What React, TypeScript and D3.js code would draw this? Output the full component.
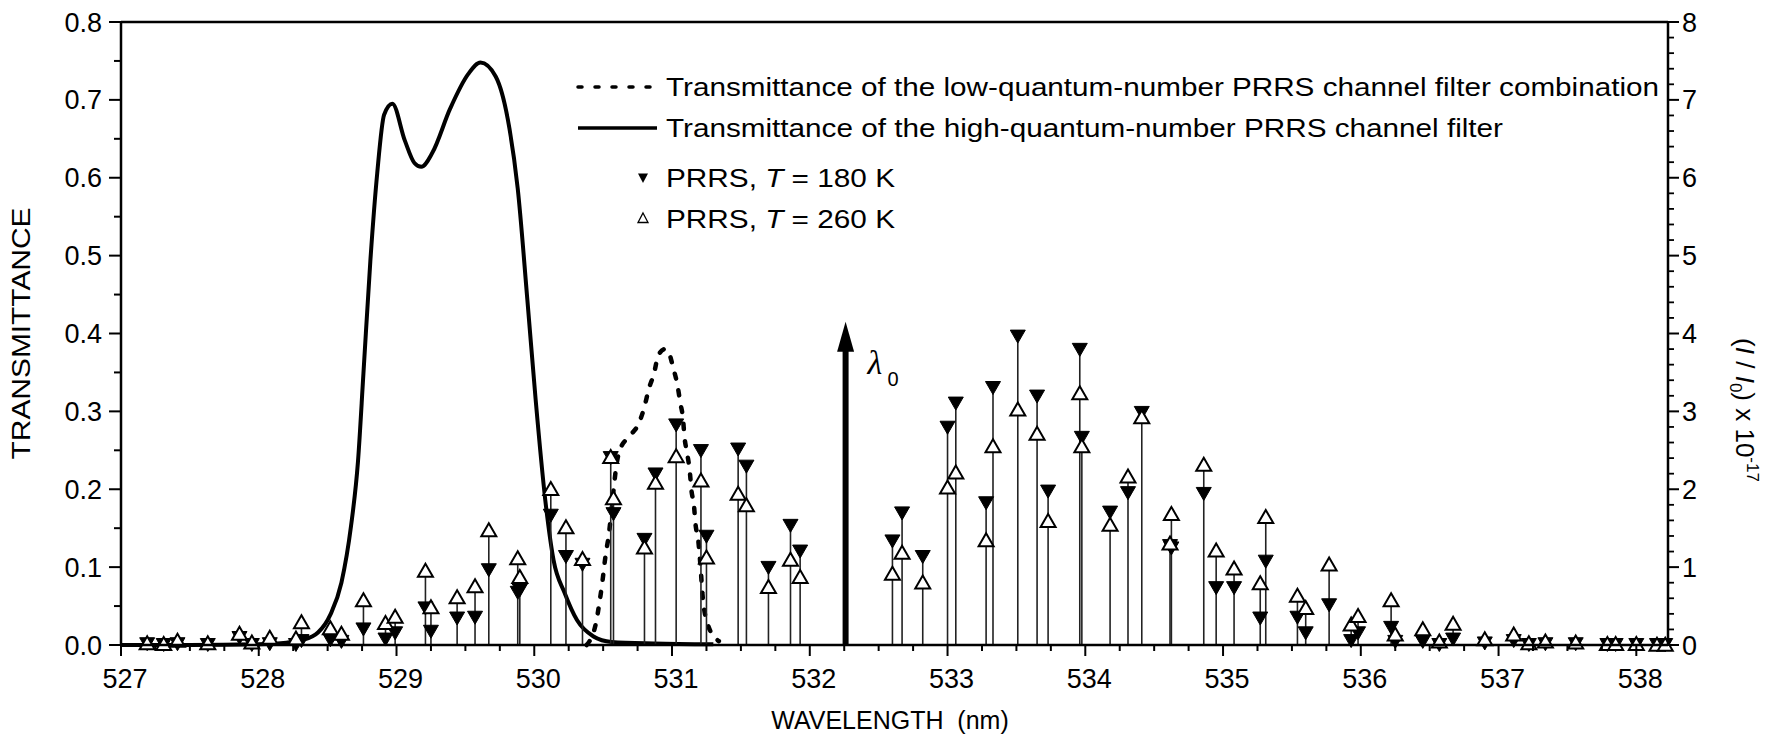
import React from "react";
import * as d3 from "d3";

const W = 1776;
const H = 740;

// ---------------- data ----------------
const xTicks = [527, 528, 529, 530, 531, 532, 533, 534, 535, 536, 537, 538];
const leftTicks = [0.0, 0.1, 0.2, 0.3, 0.4, 0.5, 0.6, 0.7, 0.8];
const rightTicks = [0, 1, 2, 3, 4, 5, 6, 7, 8];

// high-quantum-number PRRS channel filter transmittance (solid)
const highWl = [527.0, 527.5, 528.0, 528.2, 528.31, 528.43, 528.52, 528.6, 528.67, 528.72, 528.76, 528.81, 528.86, 528.91, 528.97, 529.06, 529.13, 529.18, 529.26, 529.39, 529.52, 529.61, 529.72, 529.82, 529.88, 529.95, 530.01, 530.08, 530.14, 530.22, 530.31, 530.43, 530.56, 530.87, 531.3];
const highT = [0.0, 0.0, 0.001, 0.003, 0.006, 0.016, 0.039, 0.08, 0.153, 0.235, 0.349, 0.493, 0.606, 0.681, 0.695, 0.648, 0.619, 0.614, 0.632, 0.689, 0.733, 0.748, 0.73, 0.663, 0.586, 0.443, 0.315, 0.186, 0.109, 0.067, 0.032, 0.011, 0.004, 0.002, 0.001];

// low-quantum-number PRRS channel filter combination transmittance (dotted)
const lowWl = [530.38, 530.45, 530.47, 530.49, 530.52, 530.54, 530.57, 530.6, 530.62, 530.69, 530.76, 530.8, 530.83, 530.87, 530.9, 530.95, 530.97, 531.01, 531.04, 531.06, 531.08, 531.09, 531.11, 531.13, 531.14, 531.16, 531.17, 531.19, 531.21, 531.22, 531.26, 531.34];
const lowT = [0.0, 0.03, 0.051, 0.075, 0.118, 0.14, 0.19, 0.235, 0.25, 0.268, 0.285, 0.306, 0.328, 0.349, 0.372, 0.38, 0.378, 0.355, 0.333, 0.311, 0.29, 0.268, 0.246, 0.221, 0.2, 0.178, 0.156, 0.135, 0.093, 0.067, 0.026, 0.005];

// PRRS lines: wavelength, (I/I0)x1e-17 at 180 K and 260 K
const lineWl = [527.19, 527.31, 527.41, 527.63, 527.86, 527.95, 528.08, 528.27, 528.31, 528.52, 528.6, 528.76, 528.92, 528.99, 529.21, 529.25, 529.44, 529.57, 529.67, 529.88, 529.895, 530.12, 530.23, 530.35, 530.555, 530.575, 530.8, 530.88, 531.03, 531.21, 531.25, 531.48, 531.54, 531.7, 531.86, 531.93, 532.6, 532.67, 532.82, 533.0, 533.06, 533.28, 533.33, 533.51, 533.65, 533.73, 533.96, 533.975, 534.18, 534.31, 534.41, 534.615, 534.625, 534.86, 534.95, 535.08, 535.27, 535.31, 535.54, 535.6, 535.77, 535.93, 535.98, 536.22, 536.25, 536.45, 536.57, 536.67, 536.9, 537.11, 537.22, 537.34, 537.56, 537.79, 537.85, 538.0, 538.15, 538.21];
const i180 = [0.01, 0.0, 0.01, 0.0, 0.09, 0.0, 0.01, 0.0, 0.05, 0.06, 0.04, 0.2, 0.07, 0.15, 0.47, 0.17, 0.34, 0.35, 0.96, 0.67, 0.7, 1.66, 1.13, 1.03, 2.4, 1.68, 1.35, 2.19, 2.82, 2.49, 1.39, 2.51, 2.29, 0.99, 1.53, 1.2, 1.33, 1.69, 1.13, 2.79, 3.1, 1.82, 3.3, 3.96, 3.19, 1.97, 3.79, 2.66, 1.7, 1.95, 2.98, 1.27, 1.24, 1.94, 0.73, 0.73, 0.34, 1.07, 0.35, 0.15, 0.51, 0.05, 0.15, 0.22, 0.04, 0.04, 0.0, 0.07, 0.02, 0.05, 0.0, 0.01, 0.01, 0.0, 0.0, 0.0, 0.0, 0.0];
const i260 = [0.03, 0.02, 0.06, 0.03, 0.15, 0.04, 0.1, 0.09, 0.3, 0.22, 0.15, 0.58, 0.29, 0.37, 0.96, 0.49, 0.62, 0.76, 1.48, 1.12, 0.88, 2.01, 1.52, 1.11, 2.42, 1.89, 1.26, 2.09, 2.43, 2.12, 1.13, 1.95, 1.8, 0.75, 1.1, 0.88, 0.92, 1.19, 0.81, 2.03, 2.22, 1.35, 2.56, 3.03, 2.72, 1.6, 3.24, 2.56, 1.55, 2.17, 2.93, 1.31, 1.69, 2.32, 1.22, 0.99, 0.8, 1.65, 0.64, 0.48, 1.04, 0.27, 0.38, 0.58, 0.14, 0.21, 0.05, 0.28, 0.08, 0.14, 0.03, 0.05, 0.04, 0.02, 0.02, 0.02, 0.01, 0.01];

const LAMBDA0 = 532.26;
const LAMBDA0_ARROW = 4.15;

const legendLow = "Transmittance of the low-quantum-number PRRS channel filter combination";
const legendHigh = "Transmittance of the high-quantum-number PRRS channel filter";

// ---------------- scales ----------------
const x = d3.scaleLinear().domain([527.0, 538.23]).range([121, 1668]);
const yL = d3.scaleLinear().domain([0, 0.8]).range([645, 22]);
const yR = d3.scaleLinear().domain([0, 8]).range([645, 22]);

const FONT = "'Liberation Sans', Arial, Helvetica, sans-serif";

export default function App() {
  const highPts = highWl.map((w, i) => [w, highT[i]] as [number, number]);
  const lowPts = lowWl.map((w, i) => [w, lowT[i]] as [number, number]);
  const line = d3
    .line<[number, number]>()
    .x((d) => x(d[0]))
    .y((d) => yL(d[1]))
    .curve(d3.curveMonotoneX);

  const xMinor = d3.range(527, 538.2001, 0.25).filter((v) => Math.abs(v - Math.round(v)) > 1e-6);
  const leftMinor = d3.range(0.05, 0.8, 0.1);
  const rightMinor = d3.range(0, 8.0001, 0.2).filter((v) => Math.abs(v - Math.round(v)) > 1e-6);

  const x0 = x.range()[0];
  const x1 = x.range()[1];
  const yb = yL.range()[0];
  const yt = yL.range()[1];

  const down = "M-7.5,-6.5L7.5,-6.5L0,6.5Z";
  const up = "M0,-6.5L7.5,6.5L-7.5,6.5Z";

  const ax = x(LAMBDA0);
  const aTop = yR(LAMBDA0_ARROW);

  return (
    <svg width={W} height={H} style={{ position: "absolute", left: 0, top: 0, background: "#fff" }} fontFamily={FONT}>
      <rect x={0} y={0} width={W} height={H} fill="#fff" />

      {/* filter curves */}
      <path d={line(highPts) || ""} fill="none" stroke="#000" strokeWidth={4} strokeLinejoin="round" />
      <path d={line(lowPts) || ""} fill="none" stroke="#000" strokeWidth={4.5} strokeDasharray="5 12" strokeLinecap="round" />

      {/* stems */}
      {lineWl.map((w, i) => (
        <line key={"s" + i} x1={x(w)} x2={x(w)} y1={yR(0)} y2={yR(Math.max(i180[i], i260[i]))} stroke="#222" strokeWidth={1.6} />
      ))}

      {/* lambda0 arrow */}
      <line x1={ax} x2={ax} y1={yb} y2={aTop + 28} stroke="#000" strokeWidth={6} />
      <path d={`M${ax},${aTop}L${ax + 8.5},${aTop + 30}L${ax - 8.5},${aTop + 30}Z`} fill="#000" />
      <text x={ax + 22} y={aTop + 52} fontFamily="'Liberation Serif', 'Times New Roman', serif" fontStyle="italic" fontSize={34}>λ</text>
      <text x={ax + 42} y={aTop + 64} fontSize={20}>0</text>

      {/* markers */}
      {lineWl.map((w, i) => (
        <path key={"d" + i} d={down} transform={`translate(${x(w)},${yR(i180[i])})`} fill="#000" stroke="#000" strokeWidth={1} />
      ))}
      {lineWl.map((w, i) => (
        <path key={"u" + i} d={up} transform={`translate(${x(w)},${yR(i260[i])})`} fill="#fff" stroke="#000" strokeWidth={2} />
      ))}

      {/* frame */}
      <line x1={x0} x2={x1} y1={yt} y2={yt} stroke="#000" strokeWidth={2.5} />
      <line x1={x0} x2={x1} y1={yb} y2={yb} stroke="#000" strokeWidth={2.5} />
      <line x1={x0} x2={x0} y1={yt} y2={yb} stroke="#000" strokeWidth={2.5} />
      <line x1={x1} x2={x1} y1={yt} y2={yb} stroke="#000" strokeWidth={2.5} />

      {/* bottom axis */}
      {xTicks.map((t) => (
        <g key={"xt" + t}>
          <line x1={x(t)} x2={x(t)} y1={yb} y2={yb + 11} stroke="#000" strokeWidth={2} />
          <text x={x(t) + 4} y={yb + 43} fontSize={27} textAnchor="middle">{t}</text>
        </g>
      ))}
      {xMinor.map((t) => (
        <line key={"xm" + t} x1={x(t)} x2={x(t)} y1={yb} y2={yb + 6} stroke="#000" strokeWidth={2} />
      ))}

      {/* left axis */}
      {leftTicks.map((t) => (
        <g key={"lt" + t}>
          <line x1={x0 - 12} x2={x0} y1={yL(t)} y2={yL(t)} stroke="#000" strokeWidth={2} />
          <text x={x0 - 19} y={yL(t) + 9.5} fontSize={27} textAnchor="end">{t.toFixed(1)}</text>
        </g>
      ))}
      {leftMinor.map((t) => (
        <line key={"lm" + t} x1={x0 - 7} x2={x0} y1={yL(t)} y2={yL(t)} stroke="#000" strokeWidth={2} />
      ))}

      {/* right axis */}
      {rightTicks.map((t) => (
        <g key={"rt" + t}>
          <line x1={x1} x2={x1 + 11} y1={yR(t)} y2={yR(t)} stroke="#000" strokeWidth={2} />
          <text x={x1 + 14} y={yR(t) + 9.5} fontSize={27} textAnchor="start">{t}</text>
        </g>
      ))}
      {rightMinor.map((t) => (
        <line key={"rm" + t} x1={x1} x2={x1 + 6} y1={yR(t)} y2={yR(t)} stroke="#000" strokeWidth={1.8} />
      ))}

      {/* axis titles */}
      <text transform={`translate(30,${(yt + yb) / 2}) rotate(-90)`} fontSize={25} textAnchor="middle" textLength={252} lengthAdjust="spacingAndGlyphs">TRANSMITTANCE</text>
      <text x={890} y={729} fontSize={25} textAnchor="middle" xmlSpace="preserve">WAVELENGTH  (nm)</text>
      <text transform={`translate(1736,${410}) rotate(90)`} fontSize={26} textAnchor="middle">
        (<tspan fontStyle="italic">I</tspan> / <tspan fontStyle="italic">I</tspan><tspan fontSize={17} dy={6}>0</tspan><tspan dy={-6}>) x 10</tspan><tspan fontSize={17} dy={-11}>-17</tspan>
      </text>

      {/* legend */}
      <line x1={578} x2={660} y1={87} y2={87} stroke="#000" strokeWidth={3.5} strokeDasharray="4 13" strokeLinecap="round" />
      <text x={666} y={96} fontSize={25} textLength={993} lengthAdjust="spacingAndGlyphs">{legendLow}</text>
      <line x1={578} x2={657} y1={128} y2={128} stroke="#000" strokeWidth={3.5} />
      <text x={666} y={137} fontSize={25} textLength={837} lengthAdjust="spacingAndGlyphs">{legendHigh}</text>
      <path d="M-5,-4.5L5,-4.5L0,5Z" transform="translate(643,178)" fill="#000" />
      <text x={666} y={187} fontSize={25} textLength={229} lengthAdjust="spacingAndGlyphs">PRRS, <tspan fontStyle="italic">T</tspan> = 180 K</text>
      <path d="M0,-5L5,4.5L-5,4.5Z" transform="translate(643,218)" fill="#fff" stroke="#000" strokeWidth={1.3} />
      <text x={666} y={228} fontSize={25} textLength={229} lengthAdjust="spacingAndGlyphs">PRRS, <tspan fontStyle="italic">T</tspan> = 260 K</text>
    </svg>
  );
}
